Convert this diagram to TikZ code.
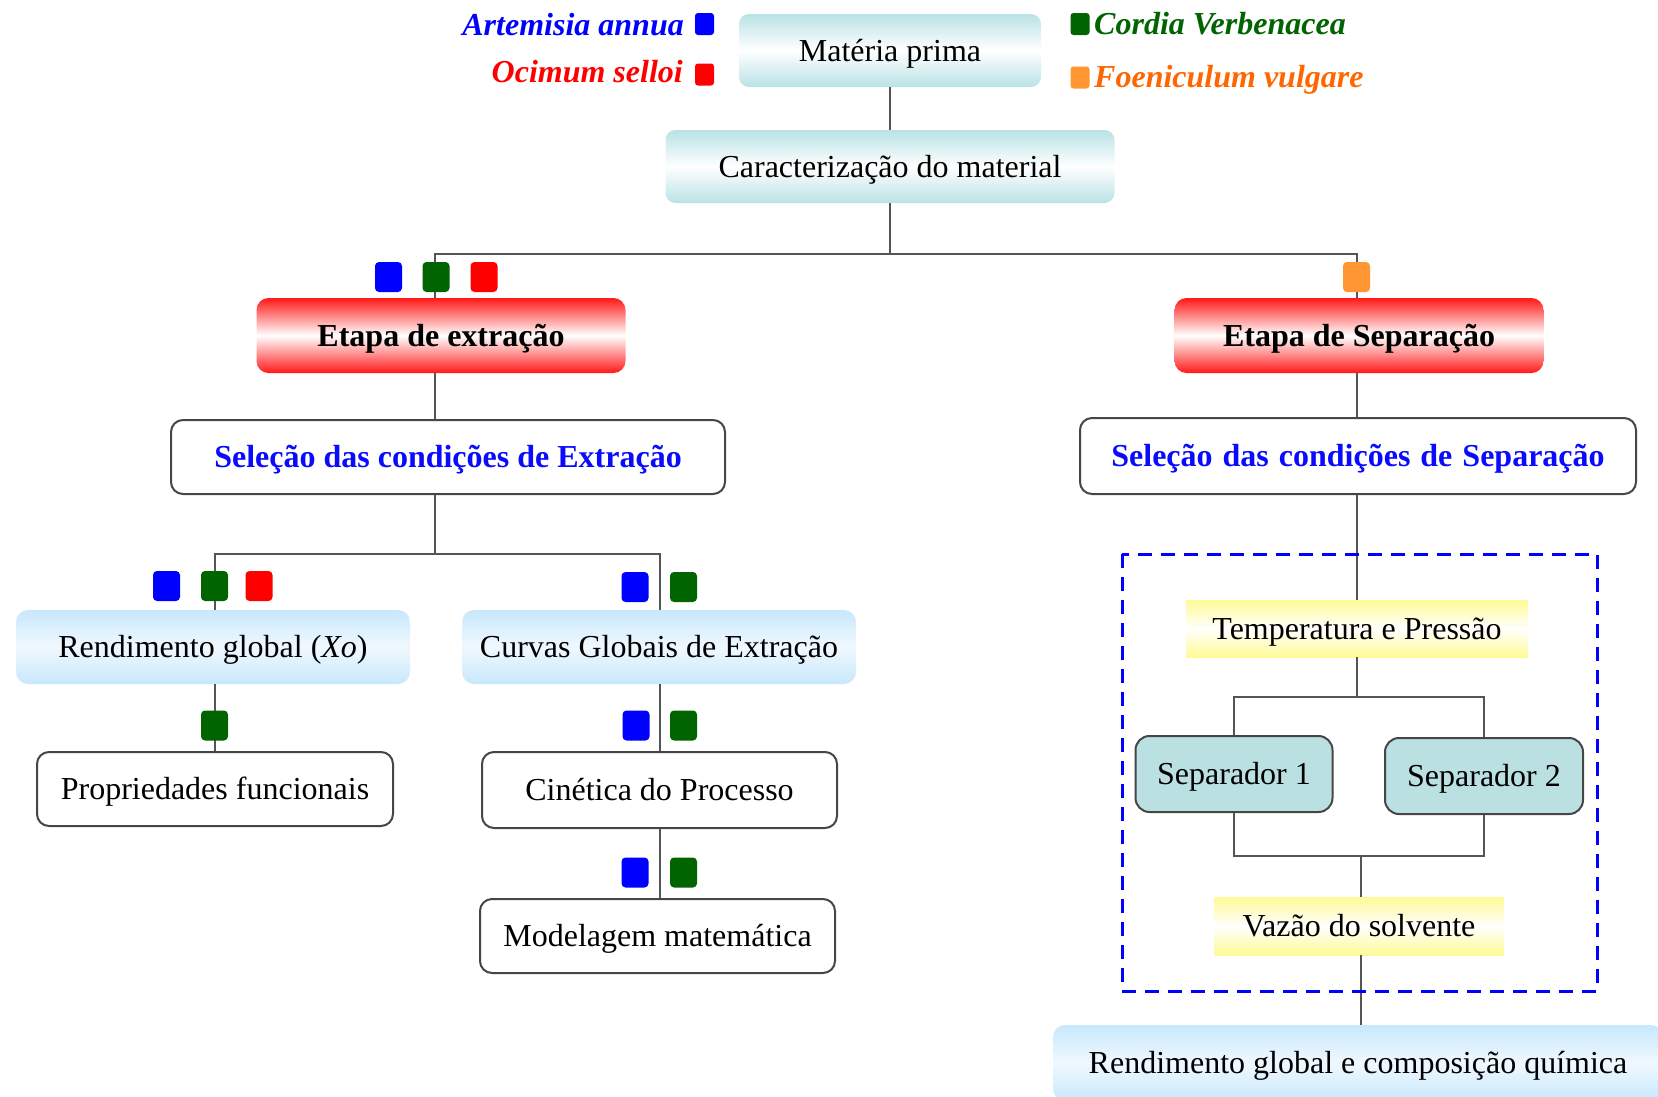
\documentclass[tikz,border=0pt]{standalone}
\usepackage{fontspec}
\setmainfont{Liberation Serif}
\definecolor{linegray}{RGB}{85,85,85}
\definecolor{tealc}{RGB}{185,226,230}
\definecolor{redc}{RGB}{255,25,25}
\definecolor{lblue}{RGB}{200,232,252}
\definecolor{lblue2}{RGB}{240,248,254}
\definecolor{yel}{RGB}{255,250,150}
\definecolor{sepfill}{RGB}{186,224,226}
\definecolor{bordergray}{RGB}{70,70,70}
\definecolor{qblue}{RGB}{0,0,255}
\definecolor{qgreen}{RGB}{0,100,0}
\definecolor{qred}{RGB}{255,0,0}
\definecolor{qorange}{RGB}{255,150,50}
\definecolor{torange}{RGB}{255,102,0}
\definecolor{tblue}{RGB}{10,10,255}
\begin{document}
\begin{tikzpicture}[x=1pt,y=-1pt,
  every node/.style={font=\fontsize{32}{38}\selectfont, inner sep=0pt},
  txt/.style={text height=24pt, text depth=3pt},
  conn/.style={draw=linegray, line width=2pt},
  tealbox/.style={txt, rounded corners=10pt, top color=tealc, bottom color=tealc, middle color=white, minimum height=73pt},
  redbox/.style={txt, rounded corners=12pt, top color=redc, bottom color=redc, middle color=white, minimum height=75pt, minimum width=369pt, font=\fontsize{32}{38}\selectfont\bfseries},
  whitebox/.style={txt, rounded corners=12pt, draw=bordergray, line width=2pt, fill=white, minimum height=74pt},
  bluebox/.style={txt, rounded corners=12pt, top color=lblue, bottom color=lblue, middle color=lblue2, minimum height=74pt},
  yelbox/.style={txt, top color=yel, bottom color=yel, middle color=white, minimum height=57pt},
  sepbox/.style={txt, rounded corners=14pt, draw=bordergray, line width=2pt, fill=sepfill, minimum width=197pt, minimum height=76pt},
  sq/.style={rounded corners=4pt, minimum width=27pt, minimum height=30pt},
  lsq/.style={rounded corners=3pt, minimum width=19pt, minimum height=22pt},
  legend/.style={font=\fontsize{32}{38}\selectfont\bfseries\itshape}
]
\useasboundingbox (0,0) rectangle (1658,1096);

% main boxes
\node[tealbox, minimum width=302pt] (mp) at (890,50.5) {Matéria prima};
\node[tealbox, minimum width=449pt] (car) at (890,166.5) {Caracterização do material};
\node[redbox] (ext) at (441,335.5) {Etapa de extração};
\node[redbox] (sep) at (1359,335.5) {Etapa de Separação};
\node[whitebox, minimum width=554pt, text=tblue, font=\fontsize{32}{38}\selectfont\bfseries] (selE) at (448,457) {Seleção das condições de Extração};
\node[whitebox, minimum width=556pt, minimum height=76pt, text=tblue, font=\fontsize{32}{38}\selectfont\bfseries] (selS) at (1358,456) {Seleção\hspace{10pt}das\hspace{10pt}condições\hspace{10pt}de\hspace{10pt}Separação};
\node[bluebox, minimum width=394pt] (rend) at (213,647) {Rendimento global (\textit{Xo})};
\node[bluebox, minimum width=394pt] (curv) at (659,647) {Curvas Globais de Extração};
\node[whitebox, minimum width=356pt] (prop) at (215,789) {Propriedades funcionais};
\node[whitebox, minimum width=355pt, minimum height=76pt] (cin) at (659.5,790) {Cinética do Processo};
\node[whitebox, minimum width=355pt] (mod) at (657.5,936) {Modelagem matemática};
\node[yelbox, minimum width=342pt] (temp) at (1357,628.5) {Temperatura e Pressão};
\node[sepbox] (s1) at (1234,774) {Separador 1};
\node[sepbox, minimum width=198pt] (s2) at (1484,776) {Separador 2};
\node[yelbox, minimum width=289pt, minimum height=58pt] (vaz) at (1359,926) {Vazão do solvente};
\node[bluebox, minimum width=610pt, minimum height=76pt] (rgc) at (1358,1063) {Rendimento global e composição química};

% junctions (x positions of the vertical lines)
\coordinate (busT) at (890,254);
\coordinate (busE) at (435,554);
\coordinate (lineR) at (215,554);
\coordinate (lineC) at (660,554);
\coordinate (lineS) at (1357,254);
\coordinate (busS1) at (1357,697);
\coordinate (busS2) at (1361,856);

% connectors
\draw[conn] (mp.south) -- (car.north);
\draw[conn] (car.south) -- (busT);
\draw[conn] (ext.north -| busE) |- (busT) -| (sep.north -| lineS);
\draw[conn] (ext.south -| busE) -- (busE |- selE.north);
\draw[conn] (selE.south -| busE) -- (busE);
\draw[conn] (rend.north -| lineR) |- (busE) -| (curv.north -| lineC);
\draw[conn] (rend.south -| lineR) -- (prop.north -| lineR);
\draw[conn] (curv.south -| lineC) -- (cin.north -| lineC);
\draw[conn] (cin.south -| lineC) -- (mod.north -| lineC);
\draw[conn] (sep.south -| lineS) -- (selS.north -| lineS);
\draw[conn] (selS.south -| lineS) -- (temp.north -| lineS);
\draw[conn] (temp.south -| busS1) -- (busS1);
\draw[conn] (s1.north) |- (busS1) -| (s2.north);
\draw[conn] (s1.south) |- (busS2) -| (s2.south);
\draw[conn] (busS2) -- (vaz.north -| busS2);
\draw[conn] (vaz.south -| busS2) -- (rgc.north -| busS2);

% dashed frame
\draw[qblue, line width=3pt, dash pattern=on 14pt off 9pt] (1122,554) rectangle (1597,991);

% colour markers
\node[sq, fill=qblue] (e1) at (388.5,277) {};
\node[sq, fill=qgreen] (e2) at (436,277) {};
\node[sq, fill=qred] (e3) at (484,277) {};
\node[sq, fill=qorange] (o1) at (1356.5,277) {};
\node[sq, fill=qblue] (r1) at (166.5,586) {};
\node[sq, fill=qgreen] (r2) at (214.5,586) {};
\node[sq, fill=qred] (r3) at (259,586) {};
\node[sq, fill=qblue] (c1) at (635,587) {};
\node[sq, fill=qgreen] (c2) at (683.5,587) {};
\node[sq, fill=qgreen] (p2) at (214.5,725.5) {};
\node[sq, fill=qblue] (k1) at (636,725.5) {};
\node[sq, fill=qgreen] (k2) at (683.5,725.5) {};
\node[sq, fill=qblue] (m1) at (635,872.5) {};
\node[sq, fill=qgreen] (m2) at (683.5,872.5) {};

% legend
\node[lsq, fill=qblue] (la) at (704.5,24) {};
\node[lsq, fill=qred] (lo) at (704.5,74.5) {};
\node[lsq, fill=qgreen] (lc) at (1080,24) {};
\node[lsq, fill=qorange] (lf) at (1080,77.5) {};
\node[legend, text=qblue, anchor=base east] (ta) at (684,35) {Artemisia annua};
\node[legend, text=qred, anchor=base east] (to) at (683,82) {Ocimum selloi};
\node[legend, text=qgreen, anchor=base west] (tc) at (1094,34) {Cordia Verbenacea};
\node[legend, text=torange, anchor=base west] (tf) at (1094,87) {Foeniculum vulgare};
\end{tikzpicture}
\end{document}
